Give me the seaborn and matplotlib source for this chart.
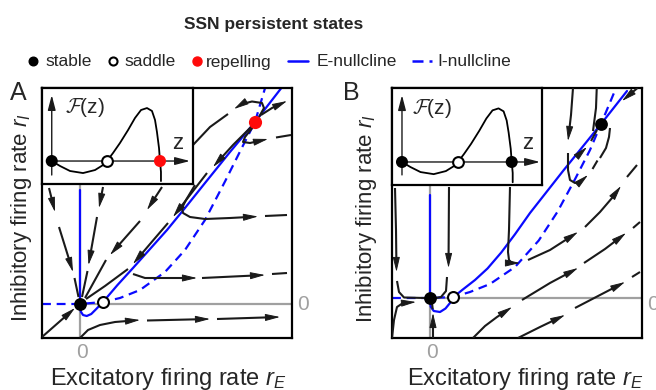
import numpy as np
import matplotlib
matplotlib.use("Agg")
import matplotlib.pyplot as plt
import seaborn as sns

# ---------------- data (state-space units, 0 = origin) ----------------
# Panel A nullclines
A_E_null_x = [0, 0, 0.03, 0.12, 0.27, 0.45, 0.65, 0.92, 1.5, 2.12, 2.8, 3.48, 4.2, 5.0, 6.0, 7.0, 8.1]
A_E_null_y = [4.56, -0.1, -0.3, -0.44, -0.48, -0.4, -0.2, 0.08, 0.76, 1.44, 2.2, 2.96, 3.84, 4.84, 6.08, 7.28, 8.7]
A_I_null_x = [-1.52, 0, 0.92, 1.6, 2.4, 3.4, 4.2, 5.0, 5.8, 6.45, 7.0, 7.42]
A_I_null_y = [0, 0, 0.08, 0.24, 0.56, 1.28, 2.16, 3.36, 4.9, 6.2, 7.28, 8.7]
# Panel B nullclines
B_E_null_x = [0, 0, 0.03, 0.15, 0.4, 0.62, 0.8, 0.93, 1.3, 1.8, 2.3, 2.85, 3.4, 4.0, 5.32, 6.84, 7.88]
B_E_null_y = [4.12, -0.1, -0.35, -0.52, -0.56, -0.42, -0.2, 0.03, 0.33, 0.72, 1.18, 1.82, 2.55, 3.4, 5.08, 6.96, 8.28]
B_I_null_x = [-1.52, 0, 0.92, 1.6, 2.4, 3.4, 4.35, 5.1, 5.8, 6.4, 6.84, 7.4]
B_I_null_y = [0, 0, 0.04, 0.24, 0.56, 1.24, 2.3, 3.45, 4.75, 5.92, 6.96, 8.3]

# fixed points
A_stable = ([0], [0]); A_saddle = ([0.92], [0.08]); A_repel = ([7.0], [7.28])
B_stable = ([0, 6.84], [0, 6.96]); B_saddle = ([0.93], [0.03])

# trajectories: list of (x list, y list, ends_with_arrow)
A_T1 = [([-1.24, -1.0], [4.64, 3.68], True), ([-0.84, -0.28], [3.08, 1.28], True), ([-0.22, -0.06], [1.04, 0.28], False)]
A_T2 = [([0.92, 0.76], [4.68, 3.84], True), ([0.68, 0.34], [3.48, 1.56], True), ([0.3, 0.08], [1.32, 0.28], False)]
A_T3 = [([3.28, 2.68], [4.68, 3.76], True), ([2.4, 1.2], [3.32, 1.96], True), ([1.04, 0.2], [1.76, 0.24], False)]
A_T4 = [([6.92, 6.12, 5.32], [7.16, 6.36, 5.48], True), ([5.08, 4.4, 3.72], [5.24, 4.36, 3.48], True),
        ([3.52, 2.8, 2.12], [3.24, 2.4, 1.6], True), ([1.92, 1.0, 0.24], [1.4, 0.72, 0.2], False)]
A_T5 = [([7.16, 7.36, 7.28, 6.88, 6.48, 6.16], [7.48, 7.84, 8.04, 8.1, 8.0, 7.8], True),
        ([5.92, 5.2, 4.52, 3.8], [7.6, 7.08, 6.36, 5.56], False)]
A_T6 = [([7.24, 7.68, 8.28], [7.56, 7.84, 8.12], True)]
A_T7 = [([6.92, 6.6, 6.52, 6.8, 7.52], [7.08, 6.68, 6.48, 6.44, 6.6], True), ([7.84, 8.44], [6.66, 6.76], False)]
A_T8 = [([4.6, 4.24, 4.08, 4.12, 4.4, 5.0, 6.0, 7.12], [4.76, 4.16, 3.84, 3.64, 3.48, 3.4, 3.44, 3.5], True),
        ([7.4, 8.28], [3.52, 3.56], False)]
A_T9 = [([2.12, 2.6, 4.68], [1.2, 1.04, 1.04], True), ([4.88, 7.4], [1.04, 1.16], True), ([7.68, 8.28], [1.2, 1.24], False)]
A_T10 = [([0, 0.32, 0.8, 1.4, 2.4], [-1.36, -1.04, -0.84, -0.72, -0.64], True), ([2.68, 5.2], [-0.66, -0.6], True),
         ([5.48, 8.0], [-0.6, -0.52], True)]
A_T11 = [([-1.52, -0.2], [-1.32, -0.16], True)]

B_S1 = [([-1.4, -1.36, -1.34], [4.4, 2.72, 1.04], True), ([-1.32, -1.24, -1.04, -0.2], [0.68, 0.24, 0.02, 0.0], False)]
B_S2 = [([-1.52, -1.44, -1.32, -1.08, -0.56], [-1.6, -0.88, -0.36, -0.2, -0.16], True)]
B_S3 = [([0.76, 0.74], [4.44, 1.2], True), ([0.68, 0.64, 0.44, 0.24], [0.84, 0.28, 0.04, 0.0], False)]
B_S4 = [([0.12, 0.12], [-1.6, -0.6], True), ([0.11, 0.08], [-0.45, -0.2], False)]
B_S5 = [([3.2, 3.16, 3.12, 3.16, 3.28, 3.6], [4.44, 2.72, 1.84, 1.52, 1.4, 1.4], True),
        ([3.92, 4.8, 5.92], [1.52, 1.92, 2.64], True), ([6.2, 6.8, 7.28, 7.64], [2.84, 3.44, 4.0, 4.48], True),
        ([7.88, 8.28], [4.84, 5.32], False)]
B_S6 = [([5.72, 5.64, 5.52], [8.4, 7.32, 6.28], True),
        ([5.52, 5.52, 5.6, 5.8, 6.0, 6.32], [5.8, 5.12, 4.72, 4.6, 4.64, 4.92], True), ([6.5, 6.7], [5.16, 5.5], False)]
B_S7 = [([6.67, 6.64, 6.52], [8.4, 7.6, 6.68], False)]
B_S8 = [([5.92, 6.28], [5.7, 6.04], True), ([6.44, 6.68], [6.28, 6.72], False)]
B_S9 = [([6.8, 7.04, 7.16, 7.2], [5.6, 6.0, 6.44, 6.8], False)]
B_S10 = [([8.3, 7.68], [8.4, 7.88], True)]
B_S12 = [([1.72, 2.2, 2.68, 3.28], [-1.6, -1.12, -0.76, -0.36], True), ([3.68, 4.8, 5.92], [-0.08, 0.6, 1.2], True),
         ([6.16, 7.0, 7.84], [1.4, 1.96, 2.6], True), ([8.12, 8.4], [2.8, 3.04], False)]
B_S13 = [([3.52, 4.4, 5.4], [-1.6, -1.16, -0.68], True), ([5.8, 6.8, 7.8], [-0.4, 0.12, 0.64], True),
         ([8.08, 8.4], [0.84, 1.04], False)]

# inset potential-like function F(z)
F_z = [0, 0.077, 0.169, 0.289, 0.4, 0.474, 0.51, 0.566, 0.63, 0.705, 0.769, 0.825, 0.88, 0.926, 0.954, 0.972, 0.991, 1.0, 1.009, 1.009]
F_val = [0, -0.046, -0.092, -0.111, -0.083, -0.037, 0, 0.074, 0.166, 0.286, 0.397, 0.471, 0.489, 0.462, 0.379, 0.268, 0.12, 0, -0.1, -0.185]
F_fixed_z = [0, 0.51, 1.0]

# ---------------- style ----------------
sns.set_theme(style="white")
plt.rcParams["font.family"] = ["Liberation Sans", "DejaVu Sans"]
plt.rcParams["mathtext.fontset"] = "custom"
plt.rcParams["mathtext.rm"] = "Liberation Sans"
plt.rcParams["mathtext.it"] = "Liberation Sans:italic"
plt.rcParams["mathtext.bf"] = "Liberation Sans:bold"

BLUE = "#0a0aff"
GRAY = "#a0a0a0"
RED = "#ff0a0a"
W, H = 656, 390
fig = plt.figure(figsize=(W / 100, H / 100), dpi=100)


def px_axes(x0, y0, x1, y1):
    return fig.add_axes([x0 / W, 1 - y1 / H, (x1 - x0) / W, (y1 - y0) / H])


def frame(ax, lw=1.6):
    ax.set_xticks([]); ax.set_yticks([])
    ax.set_xlabel(""); ax.set_ylabel("")
    for s in ax.spines.values():
        s.set_visible(True); s.set_color("black"); s.set_linewidth(lw)


ARROW = "-|>,head_length=1.0,head_width=0.24"


def draw_traj(ax, segs):
    for xs, ys, arrow in segs:
        xs = np.asarray(xs, float); ys = np.asarray(ys, float)
        if arrow:
            tip = np.array([xs[-1], ys[-1]])
            d = tip - np.array([xs[-2], ys[-2]]); d /= np.hypot(*d)
            back = tip - d * 0.3
            ax.plot(np.r_[xs[:-1], back[0]], np.r_[ys[:-1], back[1]], color="k", lw=1.5,
                    solid_capstyle="butt", solid_joinstyle="round", zorder=3)
            ax.annotate("", xy=tip, xytext=tip - d * 0.4,
                        arrowprops=dict(arrowstyle=ARROW, mutation_scale=9, color="k", lw=0.7,
                                        shrinkA=0, shrinkB=0), zorder=3)
        else:
            ax.plot(xs, ys, color="k", lw=1.5, solid_capstyle="butt", zorder=3)


def main_panel(box, xlim, ylim, Ex, Ey, Ix, Iy, trajs, stable, saddle, repel=None):
    ax = px_axes(*box)
    ax.set_xlim(*xlim); ax.set_ylim(*ylim)
    ax.plot([0, 0], ylim, color=GRAY, lw=1.6, zorder=1)
    ax.plot([0, xlim[1]], [0, 0], color=GRAY, lw=1.6, zorder=1)
    sns.lineplot(x=Ix, y=Iy, sort=False, estimator=None, color=BLUE, lw=1.6,
                 linestyle=(0, (4, 2.6)), ax=ax, zorder=2)
    sns.lineplot(x=Ex, y=Ey, sort=False, estimator=None, color=BLUE, lw=1.6, ax=ax, zorder=2)
    for t in trajs:
        draw_traj(ax, t)
    sns.scatterplot(x=stable[0], y=stable[1], s=85, color="black", edgecolor="black", linewidth=0, ax=ax, zorder=5)
    sns.scatterplot(x=saddle[0], y=saddle[1], s=62, color="white", edgecolor="black", linewidth=1.5, ax=ax, zorder=5)
    if repel is not None:
        sns.scatterplot(x=repel[0], y=repel[1], s=90, color=RED, edgecolor=RED, linewidth=0, ax=ax, zorder=5)
    frame(ax)
    return ax


def inset(box, xlim, ylim, h_end, v_lo, v_hi, colors, flabel, zlabel):
    ax = px_axes(*box)
    ax.set_zorder(6)
    ax.set_facecolor("white")
    ax.set_xlim(*xlim); ax.set_ylim(*ylim)
    ap = dict(arrowstyle="-|>,head_length=1.0,head_width=0.26", mutation_scale=9, color="k", lw=1.0,
              shrinkA=0, shrinkB=0)
    ax.annotate("", xy=(h_end, 0), xytext=(0, 0), arrowprops=ap)
    ax.annotate("", xy=(0, v_hi), xytext=(0, v_lo), arrowprops=ap)
    sns.lineplot(x=F_z, y=F_val, sort=False, estimator=None, color="black", lw=1.3, ax=ax, zorder=3)
    for zf, c in zip(F_fixed_z, colors):
        if c == "open":
            ax.scatter([zf], [0], s=60, color="white", edgecolor="black", linewidth=1.5, zorder=5)
        else:
            ax.scatter([zf], [0], s=75, color=c, edgecolor="none", zorder=5)
    ax.text(flabel[0], flabel[1], r"$\mathcal{F}$(z)", fontsize=15, ha="left", va="center",
            math_fontfamily="cm")
    ax.text(zlabel[0], zlabel[1], "z", fontsize=16, ha="center", va="center")
    frame(ax)
    return ax


# Panel A
main_panel((42, 88, 292, 338), (-1.52, 8.48), (-1.36, 8.64), A_E_null_x, A_E_null_y, A_I_null_x, A_I_null_y,
           [A_T1, A_T2, A_T3, A_T4, A_T5, A_T6, A_T7, A_T8, A_T9, A_T10, A_T11], A_stable, A_saddle, A_repel)
inset((42, 88, 193, 184), (-0.09, 1.305), (-0.212, 0.674), 1.277, -0.129, 0.609,
      ["black", "open", RED], (0.12, 0.49), (1.166, 0.16))

# Panel B
main_panel((392, 88, 642, 338), (-1.52, 8.48), (-1.6, 8.4), B_E_null_x, B_E_null_y, B_I_null_x, B_I_null_y,
           [B_S1, B_S2, B_S3, B_S4, B_S5, B_S6, B_S7, B_S8, B_S9, B_S10, B_S12, B_S13], B_stable, B_saddle)
inset((392, 88, 542, 185), (-0.091, 1.276), (-0.21, 0.675), 1.258, -0.118, 0.61,
      ["black", "open", "black"], (0.088, 0.49), (1.149, 0.165))

# ---------------- overlay texts / legend (pixel coords) ----------------
ov = fig.add_axes([0, 0, 1, 1])
ov.set_zorder(10)
ov.set_xlim(0, W); ov.set_ylim(H, 0); ov.axis("off")
ov.text(274, 29.5, "SSN persistent states", fontsize=12.5, fontweight="bold", ha="center", va="baseline")

ly = 61
ov.plot([33], [ly], "o", ms=6.2, color="black")
ov.text(45, ly + 5.5, "stable", fontsize=12.5, va="baseline")
ov.plot([113], [ly], "o", ms=5.8, mfc="white", mec="black", mew=1.5)
ov.text(124, ly + 5.5, "saddle", fontsize=12.5, va="baseline")
ov.plot([197], [ly], "o", ms=6.5, color=RED)
ov.text(206, ly + 5.5, "repelling", fontsize=12.5, va="baseline")
ov.plot([288, 308], [ly, ly], color=BLUE, lw=1.8)
ov.text(317, ly + 5.5, "E-nullcline", fontsize=12.5, va="baseline")
ov.plot([412, 432], [ly, ly], color=BLUE, lw=1.8, linestyle=(0, (4.4, 2.4)))
ov.text(437, ly + 5.5, "I-nullcline", fontsize=12.5, va="baseline")

ov.text(10, 100, "A", fontsize=18, va="baseline")
ov.text(343, 100, "B", fontsize=18, va="baseline")

ov.text(50, 385, r"Excitatory firing rate $r_E$", fontsize=17, va="baseline")
ov.text(407, 385, r"Excitatory firing rate $r_E$", fontsize=17, va="baseline")
ov.text(27, 322, r"Inhibitory firing rate $r_I$", fontsize=16, rotation=90, rotation_mode="anchor",
        ha="left", va="baseline")
ov.text(372, 323, r"Inhibitory firing rate $r_I$", fontsize=16, rotation=90, rotation_mode="anchor",
        ha="left", va="baseline")

for x, y in [(81.7, 352), (303, 305), (431.7, 353), (653, 305)]:
    ov.text(x, y, "0", fontsize=15, color=GRAY, ha="center", va="center")

fig.savefig("out.png", dpi=100)
